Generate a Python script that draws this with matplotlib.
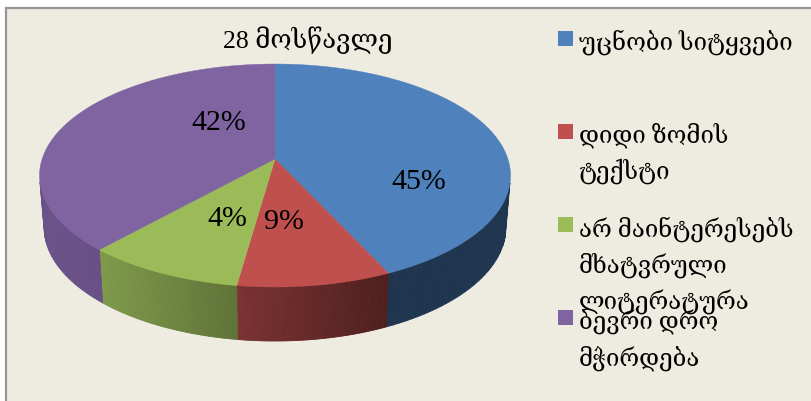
import numpy as np
import matplotlib
matplotlib.use("Agg")
import matplotlib.pyplot as plt
from matplotlib.colors import to_rgb
from matplotlib.patches import Rectangle

title = "28 მოსწავლე"
# wedge sizes, printed labels differ from them
shares = [42.0, 10.6, 10.8, 36.6]
pct_labels = ["45%", "9%", "4%", "42%"]
colors = ["#4f81bd", "#c0504d", "#9bbb59", "#8064a2"]
side_left = ["#1f3550", "#7a3232", "#7f9a4a", "#6a5289"]
side_right = ["#1f3550", "#4e1f1d", "#5f7238", "#694f85"]
legend_labels = [
    ["უცნობი სიტყვები"],
    ["დიდი ზომის", "ტექსტი"],
    ["არ მაინტერესებს", "მხატვრული", "ლიტერატურა"],
    ["ბევრი დრო", "მჭირდება"],
]
legend_y = [42, 135, 229, 322]
swatch_y = [32, 125, 218, 311]
pct_x = [419, 284, 227, 219]
pct_y = [182, 222, 219, 123]

bg = "#eeece1"
font = ["Liberation Serif", "DejaVu Serif"]

# top ellipse, bottom ellipse, apex of the wedges
cx, cy, rx, ry = 275, 176.5, 235.5, 111.5
bx, by, brx, bry = 275, 228, 231, 114
ax0, ay0 = 275, 160

fig = plt.figure(figsize=(8.12, 4.02), dpi=100)
ax = fig.add_axes([0, 0, 1, 1])
ax.set_xlim(0, 812)
ax.set_ylim(402, 0)
ax.axis("off")

ax.add_patch(Rectangle((6, 8.5), 820, 410, fc=bg, ec="#969696", lw=1.6))

edges = np.cumsum([0] + shares) / sum(shares) * 2 * np.pi

# sides first, only the front half is visible
for i in range(len(shares)):
    t = np.linspace(edges[i], edges[i + 1], 80)
    t = t[(t > np.pi / 2 + 0.05) & (t < 3 * np.pi / 2 - 0.05)]
    if len(t) < 2:
        continue
    c0 = np.array(to_rgb(side_left[i]))
    c1 = np.array(to_rgb(side_right[i]))
    xa = cx + rx * np.sin(t)
    ya = cy - ry * np.cos(t)
    xb = bx + brx * np.sin(t)
    yb = by - bry * np.cos(t)
    lo, hi = min(xa.min(), xb.min()), max(xa.max(), xb.max())
    for j in range(len(t) - 1):
        f = ((xa[j] + xa[j + 1]) / 2 - lo) / (hi - lo)
        c = c0 + (c1 - c0) * f
        ax.fill([xa[j], xa[j + 1], xb[j + 1], xb[j]],
                [ya[j], ya[j + 1], yb[j + 1], yb[j]], color=c, lw=0.6, zorder=2)

# top face
for i in range(len(shares)):
    t = np.linspace(edges[i], edges[i + 1], 150)
    xs = np.r_[ax0, cx + rx * np.sin(t)]
    ys = np.r_[ay0, cy - ry * np.cos(t)]
    ax.fill(xs, ys, color=colors[i], lw=0.3, zorder=3)

for x, y, s in zip(pct_x, pct_y, pct_labels):
    ax.text(x, y, s, ha="center", va="center", fontsize=21.5, family=font, color="black", zorder=4)

ax.text(308, 40, title, ha="center", va="center", fontsize=18.5, family=font, color="black", zorder=4)

# legend
for lines, y, sy, c in zip(legend_labels, legend_y, swatch_y, colors):
    ax.add_patch(Rectangle((558, sy), 15, 15, fc=c, ec="none", zorder=4))
    for k, s in enumerate(lines):
        ax.text(579, y + k * 36.5, s, ha="left", va="center", fontsize=17.3, family=font, color="black", zorder=4)

fig.savefig("out.png", dpi=100)
